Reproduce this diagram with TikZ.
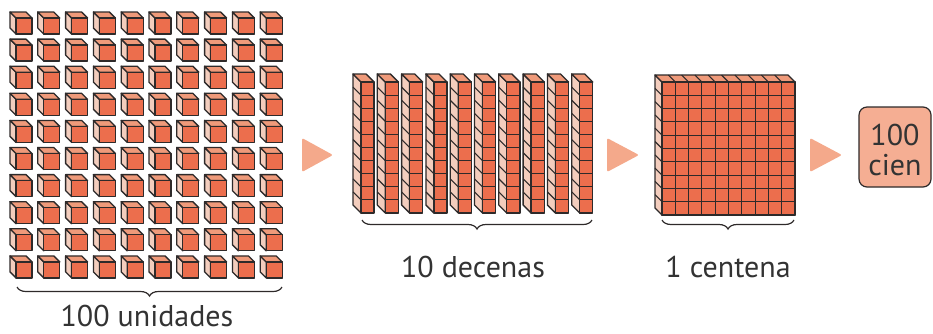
\documentclass[tikz,border=0pt]{standalone}
\usepackage{fontspec}
\setmainfont{PT Sans}
\usetikzlibrary{decorations.pathreplacing}
\definecolor{cfront}{HTML}{EC6E4D}
\definecolor{ctop}{HTML}{EF9A7A}
\definecolor{cside}{HTML}{F3CDBD}
\definecolor{cedge}{HTML}{2E2A2A}
\definecolor{carrow}{HTML}{F4A98B}
\definecolor{cbox}{HTML}{F5AE93}
\definecolor{ctext}{HTML}{333333}
\tikzset{
  edge/.style={draw=cedge, line width=1.3pt, line join=round},
  thinedge/.style={draw=cedge, line width=1.1pt},
  bracestyle/.style={draw=cedge, line width=1.2pt, decorate, decoration={brace, mirror, amplitude=9pt}},
  lbl/.style={font=\fontsize{30}{30}\selectfont, text=ctext, anchor=base, inner sep=0pt},
  boxtxt/.style={font=\fontsize{30}{30}\selectfont, text=ctext, anchor=base, inner sep=0pt},
  arrowtri/.style={fill=carrow, rounded corners=2pt},
  numbox/.style={draw=cedge, fill=cbox, rounded corners=8pt, line width=1.2pt, minimum width=72pt, minimum height=80pt, inner sep=0pt},
}
\begin{document}
\begin{tikzpicture}[x=1pt,y=-1pt]
\useasboundingbox (0,0) rectangle (933,333);

% ---- 100 unit cubes ----
\foreach \i in {0,...,9}{
  \foreach \j in {0,...,9}{
    \pgfmathsetmacro\fx{16+27.8*\i}
    \pgfmathsetmacro\fy{18+27.1*\j}
    \filldraw[edge, fill=cside] (\fx,\fy) -- ++(-6,-6) -- ++(0,16) -- ++(6,6) -- cycle;
    \filldraw[edge, fill=ctop] (\fx,\fy) -- ++(-6,-6) -- ++(16,0) -- ++(6,6) -- cycle;
    \filldraw[edge, fill=cfront] (\fx,\fy) rectangle ++(16,16);
  }
}
\draw[bracestyle] (17,287) -- (282,287);
\node[lbl] (units) at (147,326) {100 unidades};

% ---- arrows ----
\fill[arrowtri] (302,138) -- (333,155) -- (302,172) -- cycle;
\fill[arrowtri] (607,138) -- (639,155) -- (607,172) -- cycle;
\fill[arrowtri] (810,138) -- (842,155) -- (810,172) -- cycle;

% ---- 10 rods ----
\foreach \i in {0,...,9}{
  \pgfmathsetmacro\rx{361+24.3*\i}
  \filldraw[edge, fill=cside] (\rx,82) -- ++(-8,-8) -- ++(0,131) -- ++(8,8) -- cycle;
  \filldraw[edge, fill=ctop] (\rx,82) -- ++(-8,-8) -- ++(13.1,0) -- ++(8,8) -- cycle;
  \filldraw[edge, fill=cfront] (\rx,82) rectangle ++(13.1,131);
  \foreach \k in {1,...,9}{
    \draw[thinedge] (\rx,82+13.1*\k) -- ++(-8,-8);
    \draw[thinedge] (\rx,82+13.1*\k) -- ++(13.1,0);
  }
}
\draw[bracestyle] (362,220) -- (592,220);
\node[lbl] (tens) at (473,277) {10 decenas};

% ---- flat ----
\filldraw[edge, fill=cside] (662,82) -- ++(-7,-7) -- ++(0,133) -- ++(7,7) -- cycle;
\filldraw[edge, fill=ctop] (662,82) -- ++(-7,-7) -- ++(133,0) -- ++(7,7) -- cycle;
\filldraw[edge, fill=cfront] (662,82) rectangle ++(133,133);
\foreach \k in {1,...,9}{
  \draw[thinedge] (662,82+13.3*\k) -- ++(-7,-7);
  \draw[thinedge] (662+13.3*\k,82) -- ++(-7,-7);
  \draw[thinedge] (662,82+13.3*\k) -- ++(133,0);
  \draw[thinedge] (662+13.3*\k,82) -- ++(0,133);
}
\draw[edge, fill=none] (662,82) rectangle ++(133,133);
\draw[bracestyle] (662,220) -- (794,220);
\node[lbl] (hund) at (728,277) {1 centena};

% ---- result box ----
\node[numbox] (cien) at (895,147) {};
\node[boxtxt] (num) at (895,145) {100};
\node[boxtxt] (word) at (895,175) {cien};
\end{tikzpicture}
\end{document}
